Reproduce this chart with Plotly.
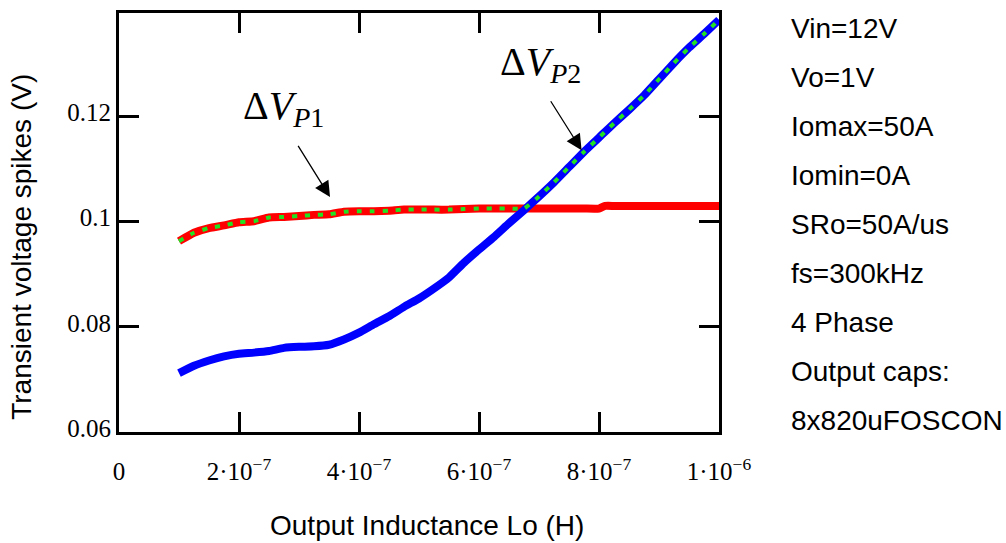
import numpy as np
import plotly.graph_objects as go

# ---- data ----
inductance = [1.0e-7, 1.25e-7, 1.5e-7, 1.75e-7, 2.0e-7, 2.25e-7, 2.5e-7, 2.75e-7,
              3.0e-7, 3.25e-7, 3.5e-7, 3.75e-7, 4.0e-7, 4.25e-7, 4.5e-7, 4.75e-7,
              5.0e-7, 5.25e-7, 5.5e-7, 5.75e-7, 6.0e-7, 6.25e-7, 6.5e-7, 6.75e-7,
              7.0e-7, 7.25e-7, 7.5e-7, 7.75e-7, 8.0e-7, 8.1e-7, 8.25e-7, 8.5e-7,
              8.75e-7, 9.0e-7, 9.25e-7, 9.5e-7, 9.75e-7, 1.0e-6]
dv_p1 = [0.0963, 0.0979, 0.0988, 0.0993, 0.0999, 0.1001, 0.1008, 0.1009,
         0.1011, 0.1013, 0.1014, 0.1019, 0.1020, 0.1020, 0.1021, 0.1023,
         0.1023, 0.1023, 0.1023, 0.1024, 0.1025, 0.1025, 0.1025, 0.1025,
         0.1025, 0.1025, 0.1025, 0.1025, 0.1025, 0.1030, 0.1030, 0.1030,
         0.1030, 0.1030, 0.1030, 0.1030, 0.1030, 0.1030]
dv_p2 = [0.0712, 0.0726, 0.0736, 0.0744, 0.0749, 0.0751, 0.0754, 0.0760,
         0.0762, 0.0763, 0.0766, 0.0776, 0.0789, 0.0805, 0.0820, 0.0838,
         0.0854, 0.0873, 0.0894, 0.0922, 0.0947, 0.0971, 0.0997, 0.1022,
         0.1048, 0.1075, 0.1104, 0.1133, 0.1160, 0.1171, 0.1187, 0.1213,
         0.1240, 0.1271, 0.1302, 0.1331, 0.1357, 0.1384]
dv_max = list(np.maximum(dv_p1, dv_p2))

x_tickvals = [0, 2e-7, 4e-7, 6e-7, 8e-7, 1e-6]
x_ticktext = ["0", "2·10<sup>−7</sup>", "4·10<sup>−7</sup>", "6·10<sup>−7</sup>",
              "8·10<sup>−7</sup>", "1·10<sup>−6</sup>"]
y_tickvals = [0.06, 0.08, 0.1, 0.12]
y_ticktext = ["0.06", "0.08", "0.1", "0.12"]

side_notes = ["Vin=12V", "Vo=1V", "Iomax=50A", "Iomin=0A", "SRo=50A/us",
              "fs=300kHz", "4 Phase", "Output caps:", "8x820uFOSCON"]

SANS = "Liberation Sans, Arial, sans-serif"
SERIF = "Liberation Serif, Times New Roman, serif"

fig = go.Figure()
fig.add_trace(go.Scatter(x=inductance, y=dv_p1, mode="lines",
                         line=dict(color="#ff0000", width=8, shape="spline", smoothing=0.4),
                         name="ΔVP1", showlegend=False))
fig.add_trace(go.Scatter(x=inductance, y=dv_p2, mode="lines",
                         line=dict(color="#0000ff", width=8, shape="spline", smoothing=0.4),
                         name="ΔVP2", showlegend=False))
fig.add_trace(go.Scatter(x=inductance, y=dv_max, mode="lines",
                         line=dict(color="#22e022", width=4, dash="5px,8px",
                                   shape="spline", smoothing=0.4),
                         name="max", showlegend=False))

axis_common = dict(showline=True, linewidth=3, linecolor="black", mirror="ticks",
                   ticks="inside", ticklen=20, tickwidth=3, tickcolor="black",
                   showgrid=False, zeroline=False,
                   tickfont=dict(family=SERIF, size=25, color="black"))

fig.update_xaxes(range=[0, 1e-6], tickmode="array", tickvals=x_tickvals,
                 ticktext=x_ticktext, ticklabelstandoff=15, **axis_common)
fig.update_yaxes(range=[0.06, 0.1397], tickmode="array", tickvals=y_tickvals,
                 ticktext=y_ticktext, ticklabelstandoff=0, ticklabelshift=-4,
                 **axis_common)

annotations = []
# axis titles
annotations.append(dict(text="Output Inductance Lo (H)", xref="paper", yref="paper",
                        x=0.5133, y=-0.2227, xanchor="center", yanchor="middle",
                        showarrow=False, font=dict(family=SANS, size=28, color="black")))
annotations.append(dict(text="Transient voltage spikes (V)", xref="paper", yref="paper",
                        x=-0.1617, y=0.442, xanchor="center", yanchor="middle",
                        textangle=-90, showarrow=False,
                        font=dict(family=SANS, size=28, color="black")))
# side notes
for i, t in enumerate(side_notes):
    ypix = 26 + 49.3 * i
    annotations.append(dict(text=t, xref="paper", yref="paper",
                            x=(789 - 119) / 600, y=(432 - ypix) / 422,
                            xanchor="left", yanchor="middle", showarrow=False,
                            font=dict(family=SANS, size=28, color="black")))
# curve labels
annotations.append(dict(text="Δ<i>V</i><sub><i>P</i>1</sub>", xref="x", yref="y",
                        x=2.03e-7, y=0.1217, xanchor="left", yanchor="middle",
                        showarrow=False, font=dict(family=SERIF, size=40, color="black")))
annotations.append(dict(text="Δ<i>V</i><sub><i>P</i>2</sub>", xref="x", yref="y",
                        x=6.32e-7, y=0.1300, xanchor="left", yanchor="middle",
                        showarrow=False, font=dict(family=SERIF, size=40, color="black")))
# arrows
annotations.append(dict(text="", x=3.517e-7, y=0.1047, ax=2.97e-7, ay=0.1147,
                        xref="x", yref="y", axref="x", ayref="y", showarrow=True,
                        arrowhead=2, arrowsize=2.4, arrowwidth=1.3, arrowcolor="black",
                        standoff=0))
annotations.append(dict(text="", x=7.71e-7, y=0.1136, ax=7.18e-7, ay=0.1232,
                        xref="x", yref="y", axref="x", ayref="y", showarrow=True,
                        arrowhead=2, arrowsize=2.4, arrowwidth=1.3, arrowcolor="black",
                        standoff=0))

fig.update_layout(width=1006, height=543,
                  margin=dict(l=119, r=287, t=10, b=111),
                  plot_bgcolor="white", paper_bgcolor="white",
                  annotations=annotations, showlegend=False)

fig.write_html("out.html", config={"displayModeBar": False},
               post_script="document.body.style.margin='0';document.body.style.overflow='hidden';")
